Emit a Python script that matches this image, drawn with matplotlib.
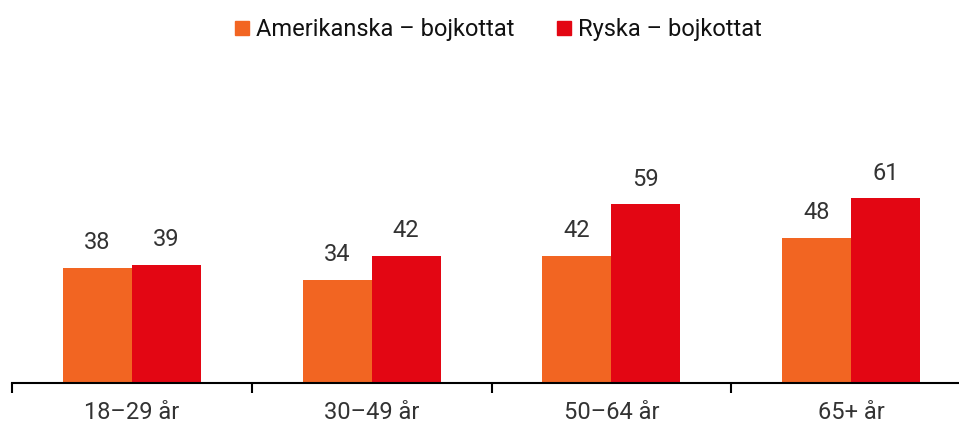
import matplotlib.pyplot as plt
import numpy as np
from matplotlib.lines import Line2D

plt.rcParams['font.family'] = ['Roboto', 'DejaVu Sans']

# Age groups and share (%) per series
groups = ["18–29 år", "30–49 år", "50–64 år", "65+ år"]
series_names = ["Amerikanska – bojkottat", "Ryska – bojkottat"]
american = [38, 34, 42, 48]
russian = [39, 42, 59, 61]

orange = "#F26522"
red = "#E30613"
text_col = "#333333"

fig = plt.figure(figsize=(9.59, 4.23), dpi=100)
ax = fig.add_axes([12 / 959, 40 / 423, 959 / 959, 303 / 423])

x = np.arange(len(groups)) + 0.5
w = 0.2875
ax.bar(x - w / 2, american, w, color=orange)
ax.bar(x + w / 2, russian, w, color=red)

for xi, v in zip(x - w / 2, american):
    ax.text(xi, v + 8.3, str(v), ha="center", va="center", fontsize=17, color=text_col)
for xi, v in zip(x + w / 2, russian):
    ax.text(xi, v + 8.3, str(v), ha="center", va="center", fontsize=17, color=text_col)

ax.set_xlim(0, len(groups))
ax.set_ylim(0, 100)

# group borders as ticks, labels in the middle
ax.set_xticks(np.arange(len(groups) + 1))
ax.set_xticklabels([])
ax.set_xticks(x, minor=True)
ax.set_xticklabels(groups, minor=True, fontsize=17, color=text_col)
ax.tick_params(axis="x", which="major", length=7, width=1.5, color="black", direction="out")
ax.tick_params(axis="x", which="minor", length=0, pad=13)
ax.set_yticks([])

for s in ["top", "right", "left"]:
    ax.spines[s].set_visible(False)
ax.spines["bottom"].set_linewidth(1.5)
ax.spines["bottom"].set_color("black")

handles = [Line2D([], [], marker="s", linestyle="none", markersize=10, color=c) for c in (orange, red)]
fig.legend(handles, series_names, loc="center", bbox_to_anchor=(0.517, 0.93), ncol=2,
           frameon=False, fontsize=17, handletextpad=0.1, columnspacing=1.6,
           labelcolor="#111111", handlelength=1.0)

fig.savefig("out.png", dpi=100)
